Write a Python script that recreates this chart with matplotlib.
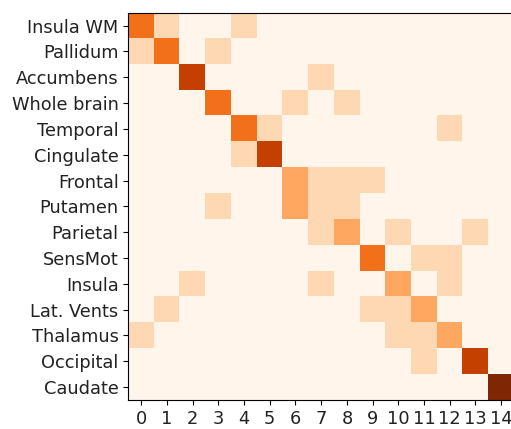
import numpy as np
import matplotlib
matplotlib.use("Agg")
import matplotlib.pyplot as plt

# region names, top to bottom
regions = ["Insula WM", "Pallidum", "Accumbens", "Whole brain", "Temporal",
           "Cingulate", "Frontal", "Putamen", "Parietal", "SensMot",
           "Insula", "Lat. Vents", "Thalamus", "Occipital", "Caudate"]
col_labels = [str(i) for i in range(15)]

# co-occurrence counts, one row per region
row_insula_wm  = [3, 1, 0, 0, 1, 0, 0, 0, 0, 0, 0, 0, 0, 0, 0]
row_pallidum   = [1, 3, 0, 1, 0, 0, 0, 0, 0, 0, 0, 0, 0, 0, 0]
row_accumbens  = [0, 0, 4, 0, 0, 0, 0, 1, 0, 0, 0, 0, 0, 0, 0]
row_wholebrain = [0, 0, 0, 3, 0, 0, 1, 0, 1, 0, 0, 0, 0, 0, 0]
row_temporal   = [0, 0, 0, 0, 3, 1, 0, 0, 0, 0, 0, 0, 1, 0, 0]
row_cingulate  = [0, 0, 0, 0, 1, 4, 0, 0, 0, 0, 0, 0, 0, 0, 0]
row_frontal    = [0, 0, 0, 0, 0, 0, 2, 1, 1, 1, 0, 0, 0, 0, 0]
row_putamen    = [0, 0, 0, 1, 0, 0, 2, 1, 1, 0, 0, 0, 0, 0, 0]
row_parietal   = [0, 0, 0, 0, 0, 0, 0, 1, 2, 0, 1, 0, 0, 1, 0]
row_sensmot    = [0, 0, 0, 0, 0, 0, 0, 0, 0, 3, 0, 1, 1, 0, 0]
row_insula     = [0, 0, 1, 0, 0, 0, 0, 1, 0, 0, 2, 0, 1, 0, 0]
row_latvents   = [0, 1, 0, 0, 0, 0, 0, 0, 0, 1, 1, 2, 0, 0, 0]
row_thalamus   = [1, 0, 0, 0, 0, 0, 0, 0, 0, 0, 1, 1, 2, 0, 0]
row_occipital  = [0, 0, 0, 0, 0, 0, 0, 0, 0, 0, 0, 1, 0, 4, 0]
row_caudate    = [0, 0, 0, 0, 0, 0, 0, 0, 0, 0, 0, 0, 0, 0, 5]

counts = np.array([row_insula_wm, row_pallidum, row_accumbens, row_wholebrain,
                   row_temporal, row_cingulate, row_frontal, row_putamen,
                   row_parietal, row_sensmot, row_insula, row_latvents,
                   row_thalamus, row_occipital, row_caudate])

fig = plt.figure(figsize=(5.11, 4.29), dpi=100)
ax = fig.add_axes([0.2511, 0.0676, 0.7548, 0.9028])
ax.imshow(counts, cmap="Oranges", vmin=0, vmax=5, aspect="auto",
          interpolation="nearest")

ax.set_xticks(range(len(col_labels)))
ax.set_xticklabels(col_labels, fontsize=12.8, color="#222222")
ax.set_yticks(range(len(regions)))
ax.set_yticklabels(regions, fontsize=12.8, color="#222222")

fig.savefig("out.png", dpi=100)
